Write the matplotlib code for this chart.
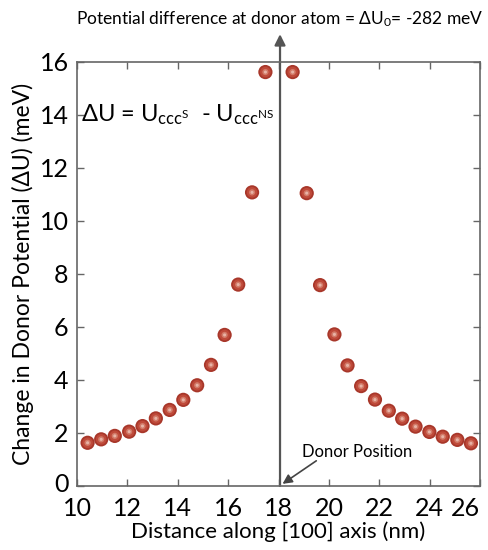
import matplotlib
matplotlib.use("Agg")
import matplotlib.pyplot as plt
import matplotlib.transforms as mtransforms

plt.rcParams['font.family'] = ['Lato', 'DejaVu Sans']
plt.rcParams['mathtext.fontset'] = 'custom'
plt.rcParams['mathtext.rm'] = 'Lato'
plt.rcParams['mathtext.it'] = 'Lato'
plt.rcParams['mathtext.bf'] = 'Lato'
plt.rcParams['mathtext.default'] = 'regular'

# Data
x_nm = [10.42, 10.96, 11.50, 12.07, 12.60, 13.13, 13.68, 14.22, 14.77, 15.32, 15.86,
        16.40, 16.95, 17.48,
        18.56, 19.12, 19.65, 20.22, 20.74, 21.28, 21.83, 22.38, 22.91, 23.44, 23.99,
        24.52, 25.10, 25.64]
dU_meV = [1.63, 1.76, 1.89, 2.05, 2.26, 2.55, 2.87, 3.25, 3.80, 4.57, 5.70,
          7.60, 11.08, 15.62,
          15.62, 11.05, 7.58, 5.72, 4.55, 3.77, 3.26, 2.84, 2.54, 2.24, 2.04,
          1.86, 1.74, 1.61]
donor_x = 18.06
x_ticks = [10, 12, 14, 16, 18, 20, 22, 24, 26]
y_ticks = [0, 2, 4, 6, 8, 10, 12, 14, 16]

fig = plt.figure(figsize=(4.89, 5.5), dpi=100)
ax = fig.add_axes([0.1575, 0.1164, 0.8241, 0.7709])

# sphere-like markers
ax.scatter(x_nm, dU_meV, s=105, color='#a8372a', edgecolors='none', zorder=3)
ax.scatter(x_nm, dU_meV, s=58, color='#bf4a3a', edgecolors='none', zorder=4)
ax.scatter(x_nm, dU_meV, s=20, color='#d27a68', edgecolors='none', zorder=5)
ax.scatter(x_nm, dU_meV, s=5, color='#e8b3a6', edgecolors='none', zorder=6)

ax.set_xlim(10, 26)
ax.set_ylim(0, 16)
ax.set_xticks(x_ticks)
ax.set_yticks(y_ticks)
ax.tick_params(direction='in', top=True, right=True, length=5, width=1,
               color='#666666', labelsize=18)
ax.tick_params(axis='x', pad=8)
ax.tick_params(axis='y', pad=6)
for s in ax.spines.values():
    s.set_color('#666666')
    s.set_linewidth(1.2)
xl = ax.get_xticklabels()
xl[-1].set_horizontalalignment('right')
xl[-1].set_x(26)
yl = ax.get_yticklabels()
yl[0].set_transform(yl[0].get_transform() +
                    mtransforms.ScaledTranslation(0, 3 / 100, fig.dpi_scale_trans))

ax.set_xlabel('Distance along [100] axis (nm)', fontsize=16, labelpad=1)
ax.set_ylabel('Change in Donor Potential (ΔU) (meV)', fontsize=16.5, labelpad=4)

# vertical donor line with arrow up
ax.annotate('', xy=(donor_x, 17.05), xytext=(donor_x, 0),
            xycoords='data', textcoords='data', annotation_clip=False,
            arrowprops=dict(arrowstyle='-|>', color='#555555', lw=1.6,
                            mutation_scale=16, shrinkA=0, shrinkB=0), zorder=2)

ax.text(donor_x, 17.6, r'Potential difference at donor atom = ΔU$_0$= -282 meV',
        ha='center', va='center', fontsize=12.5, clip_on=False)

ax.text(10.15, 14.0, r'ΔU = U$_{ccc^{S}}$  - U$_{ccc^{NS}}$',
        ha='left', va='center', fontsize=17)

ax.text(18.95, 1.28, 'Donor Position', ha='left', va='center', fontsize=12)
ax.annotate('', xy=(donor_x + 0.1, 0.08), xytext=(19.5, 0.95),
            arrowprops=dict(arrowstyle='-|>', color='#444444', lw=1.2,
                            mutation_scale=14, shrinkA=0, shrinkB=0))

fig.savefig('out.png', dpi=100)
